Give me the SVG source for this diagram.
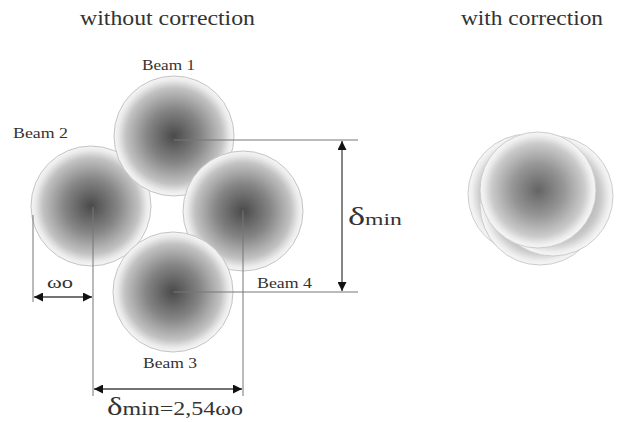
<svg xmlns="http://www.w3.org/2000/svg" width="619" height="422" viewBox="0 0 619 422">
<defs>
<radialGradient id="beam" cx="0.5" cy="0.5" r="0.5">
<stop offset="0" stop-color="#4a4a4a"/>
<stop offset="0.45" stop-color="#858585"/>
<stop offset="0.8" stop-color="#c2c2c2"/>
<stop offset="0.93" stop-color="#ebebeb"/>
<stop offset="1" stop-color="#f6f6f6"/>
</radialGradient>
<marker id="ah" viewBox="0 0 10 10" refX="10" refY="5" markerWidth="9" markerHeight="9" markerUnits="userSpaceOnUse" orient="auto-start-reverse">
<path d="M0,0 L10,5 L0,10 z" fill="#111"/>
</marker>
<style>
.b{fill:url(#beam);stroke:#c4c4c4;stroke-width:1}
.t{font-family:"Liberation Serif",serif;fill:#333}
.l{stroke:#777;stroke-width:1;fill:none}
.a{stroke:#444;stroke-width:1.3;fill:none}
</style>
</defs>
<text class="t" x="80" y="25" font-size="21" textLength="175" lengthAdjust="spacingAndGlyphs">without correction</text>
<text class="t" x="461" y="25" font-size="21" textLength="142" lengthAdjust="spacingAndGlyphs">with correction</text>
<g id="beam2"><circle class="b" cx="91" cy="206" r="60"/><text class="t" x="13" y="138" font-size="14" textLength="55" lengthAdjust="spacingAndGlyphs">Beam 2</text></g>
<g id="beam1"><circle class="b" cx="174" cy="136" r="60"/><text class="t" x="142" y="70" font-size="14" textLength="53" lengthAdjust="spacingAndGlyphs">Beam 1</text></g>
<g id="beam4"><circle class="b" cx="243" cy="211" r="60"/><text class="t" x="257" y="288" font-size="14" textLength="55" lengthAdjust="spacingAndGlyphs">Beam 4</text></g>
<g id="beam3"><circle class="b" cx="173" cy="292" r="60"/><text class="t" x="143" y="368" font-size="14" textLength="54" lengthAdjust="spacingAndGlyphs">Beam 3</text></g>
<g id="corrected" opacity="0.85">
<circle class="b" cx="528" cy="194" r="60"/>
<circle class="b" cx="540" cy="205" r="60"/>
<circle class="b" cx="553" cy="196" r="60"/>
<circle class="b" cx="538" cy="190" r="58"/>
</g>
<g id="connectors">
<line class="l" x1="174" y1="140" x2="358" y2="140"/>
<line class="l" x1="173" y1="292" x2="358" y2="292"/>
<line class="l" x1="93" y1="207" x2="93" y2="396"/>
<line class="l" x1="243" y1="210" x2="243" y2="396"/>
<line class="l" x1="33" y1="215" x2="33" y2="302"/>
<line class="a" x1="342" y1="141" x2="342" y2="291" marker-start="url(#ah)" marker-end="url(#ah)"/>
<line class="a" x1="34" y1="297" x2="92" y2="297" marker-start="url(#ah)" marker-end="url(#ah)"/>
<line class="a" x1="94" y1="389" x2="242" y2="389" marker-start="url(#ah)" marker-end="url(#ah)"/>
</g>
<text class="t" x="47" y="288" font-size="16" textLength="26" lengthAdjust="spacingAndGlyphs">ωo</text>
<text class="t" x="348" y="225" textLength="54" lengthAdjust="spacingAndGlyphs"><tspan font-size="26">δ</tspan><tspan font-size="17">min</tspan></text>
<text class="t" x="107" y="415" textLength="136" lengthAdjust="spacingAndGlyphs"><tspan font-size="26">δ</tspan><tspan font-size="19">min=2,54ωo</tspan></text>
</svg>
